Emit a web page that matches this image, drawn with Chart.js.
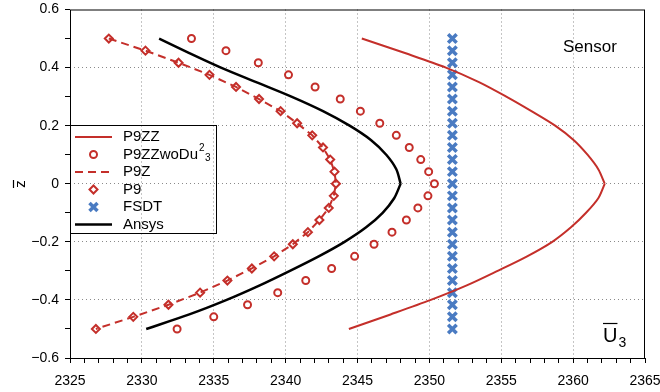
<!DOCTYPE html>
<html>
<head>
<meta charset="utf-8">
<script src="https://cdn.jsdelivr.net/npm/chart.js@4.4.0/dist/chart.umd.min.js"></script>
<style>
html, body { margin: 0; padding: 0; background: #fff; }
#wrap { width: 660px; height: 392px; }
</style>
</head>
<body>
<div id="wrap"><canvas id="c"></canvas></div>
<script>
// z levels of the sampled nodes, top to bottom
var zNodes = [0.5, 0.4583, 0.4167, 0.375, 0.3333, 0.2917, 0.25, 0.2083, 0.1667, 0.125, 0.0833, 0.0417, 0,
    -0.0417, -0.0833, -0.125, -0.1667, -0.2083, -0.25, -0.2917, -0.3333, -0.375, -0.4167, -0.4583, -0.5];

// U3 values at the nodes
var p9Values = [2327.7, 2330.25, 2332.55, 2334.7, 2336.55, 2338.15, 2339.65, 2340.8, 2341.85, 2342.6, 2343.1, 2343.4, 2343.5,
    2343.35, 2343.0, 2342.35, 2341.55, 2340.5, 2339.2, 2337.65, 2335.95, 2334.05, 2331.85, 2329.4, 2326.8];
var p9zValues = [2327.7, 2330.25, 2332.55, 2334.7, 2336.55, 2338.15, 2339.65, 2340.8, 2341.85, 2342.6, 2343.1, 2343.4, 2343.5,
    2343.35, 2343.0, 2342.35, 2341.55, 2340.5, 2339.2, 2337.65, 2335.95, 2334.05, 2331.85, 2329.4, 2326.8];
var p9zzWoValues = [2333.45, 2335.85, 2338.1, 2340.2, 2342.05, 2343.8, 2345.2, 2346.55, 2347.7, 2348.6, 2349.4, 2349.95, 2350.35,
    2349.9, 2349.2, 2348.4, 2347.4, 2346.15, 2344.8, 2343.2, 2341.4, 2339.45, 2337.35, 2335.0, 2332.45];
var fsdtValues = [2351.6, 2351.6, 2351.6, 2351.6, 2351.6, 2351.6, 2351.6, 2351.6, 2351.6, 2351.6, 2351.6, 2351.6, 2351.6,
    2351.6, 2351.6, 2351.6, 2351.6, 2351.6, 2351.6, 2351.6, 2351.6, 2351.6, 2351.6, 2351.6, 2351.6];

// continuous curves
var curveZ = [0.5, 0.45, 0.4, 0.35, 0.3, 0.25, 0.2, 0.15, 0.1, 0.05, 0,
    -0.05, -0.1, -0.15, -0.2, -0.25, -0.3, -0.35, -0.4, -0.45, -0.5];
var p9zzU = [2345.3, 2348.3, 2351.15, 2353.45, 2355.35, 2357.1, 2358.75, 2360.05, 2361.0, 2361.75, 2362.2,
    2361.75, 2360.9, 2359.85, 2358.55, 2356.8, 2354.75, 2352.6, 2350.1, 2347.3, 2344.4];
var ansysU = [2331.2, 2333.3, 2335.5, 2337.95, 2340.4, 2342.6, 2344.45, 2345.95, 2347.0, 2347.7, 2348.0,
    2347.55, 2346.75, 2345.6, 2344.1, 2342.3, 2340.3, 2338.2, 2335.9, 2333.3, 2330.3];

var xTicks = [2325, 2330, 2335, 2340, 2345, 2350, 2355, 2360, 2365];
var yTicks = [-0.6, -0.4, -0.2, 0, 0.2, 0.4, 0.6];

var RED = '#c42f2a';
var BLUE = '#4a7bc2';
var FONT = "'Liberation Sans', Arial, Helvetica, sans-serif";

function pts(us, zs) {
    return us.map(function(u, i) { return { x: u, y: zs[i] }; });
}

// smooth halves that meet in a sharp tip at z = 0
function tipPts(us, zs) {
    var out = [];
    us.forEach(function(u, i) {
        out.push({ x: u, y: zs[i] });
        if (zs[i] === 0) {
            out.push({ x: null, y: null });
            out.push({ x: u, y: zs[i] });
        }
    });
    return out;
}

var legendItems = [
    { label: 'P9ZZ', kind: 'line', color: RED },
    { label: 'P9ZZwoDu', sup: '2', sub: '3', kind: 'circle', color: RED },
    { label: 'P9Z', kind: 'dash', color: RED },
    { label: 'P9', kind: 'diamond', color: RED },
    { label: 'FSDT', kind: 'cross', color: BLUE },
    { label: 'Ansys', kind: 'line', color: '#000', width: 2.5 }
];

function drawMarker(ctx, kind, x, y, color) {
    ctx.save();
    ctx.strokeStyle = color;
    ctx.fillStyle = '#fff';
    ctx.setLineDash([]);
    if (kind === 'circle') {
        ctx.lineWidth = 2;
        ctx.beginPath();
        ctx.arc(x, y, 3.5, 0, Math.PI * 2);
        ctx.fill();
        ctx.stroke();
    } else if (kind === 'diamond') {
        ctx.lineWidth = 2;
        ctx.beginPath();
        ctx.moveTo(x, y - 4);
        ctx.lineTo(x + 4, y);
        ctx.lineTo(x, y + 4);
        ctx.lineTo(x - 4, y);
        ctx.closePath();
        ctx.fill();
        ctx.stroke();
    } else if (kind === 'cross') {
        ctx.lineWidth = 3.5;
        ctx.beginPath();
        ctx.moveTo(x - 4, y - 4);
        ctx.lineTo(x + 4, y + 4);
        ctx.moveTo(x + 4, y - 4);
        ctx.lineTo(x - 4, y + 4);
        ctx.stroke();
    }
    ctx.restore();
}

var extrasPlugin = {
    id: 'extras',
    afterDraw: function(chart) {
        var ctx = chart.ctx;
        var a = chart.chartArea;
        ctx.save();

        // axes frame
        ctx.strokeStyle = '#000';
        ctx.lineWidth = 1;
        ctx.setLineDash([]);
        ctx.strokeRect(a.left + 0.5, a.top + 0.5, a.right - a.left - 1, a.bottom - a.top);

        // legend box
        var lx = a.left + 0.5, ly = 125.5, lw = 146, lh = 108;
        ctx.strokeRect(lx, ly, lw, lh);
        ctx.textBaseline = 'middle';
        ctx.textAlign = 'left';
        legendItems.forEach(function(it, i) {
            var y = 137 + i * 17.5;
            if (it.kind === 'line' || it.kind === 'dash') {
                ctx.save();
                ctx.strokeStyle = it.color;
                ctx.lineWidth = it.width || 2;
                ctx.setLineDash(it.kind === 'dash' ? [8, 5] : []);
                ctx.beginPath();
                ctx.moveTo(75, y);
                ctx.lineTo(112, y);
                ctx.stroke();
                ctx.restore();
            } else {
                drawMarker(ctx, it.kind, 93.5, y, it.color);
            }
            ctx.fillStyle = '#000';
            ctx.font = '15px ' + FONT;
            ctx.fillText(it.label, 123, y);
            if (it.sup) {
                var w = ctx.measureText(it.label).width;
                ctx.font = '10px ' + FONT;
                ctx.fillText(it.sup, 123 + w + 1, y - 6);
                ctx.fillText(it.sub, 123 + w + 7, y + 4);
            }
        });

        // Sensor label
        ctx.fillStyle = '#000';
        ctx.font = '17px ' + FONT;
        ctx.textBaseline = 'alphabetic';
        ctx.fillText('Sensor', 563, 52);

        // U3 label with overbar
        ctx.font = '20px ' + FONT;
        ctx.fillText('U', 603, 342);
        var uw = ctx.measureText('U').width;
        ctx.lineWidth = 1.2;
        ctx.beginPath();
        ctx.moveTo(603, 323.5);
        ctx.lineTo(603 + uw, 323.5);
        ctx.stroke();
        ctx.font = '14px ' + FONT;
        ctx.fillText('3', 603 + uw + 1, 347);

        // y axis title z with overbar, rotated
        ctx.translate(21, 184);
        ctx.rotate(-Math.PI / 2);
        ctx.font = '15px ' + FONT;
        ctx.textAlign = 'center';
        ctx.textBaseline = 'middle';
        ctx.fillText('z', 0, 0);
        ctx.lineWidth = 1.2;
        ctx.beginPath();
        ctx.moveTo(-4, -7.5);
        ctx.lineTo(4, -7.5);
        ctx.stroke();
        ctx.restore();
    }
};

function isMajorX(v) {
    return xTicks.indexOf(Math.round(v)) >= 0;
}
function isMajorY(v) {
    var r = Math.round(v * 10);
    return yTicks.indexOf(r / 10) >= 0;
}

new Chart(document.getElementById('c'), {
    type: 'scatter',
    data: {
        datasets: [
            {
                label: 'P9ZZ',
                data: tipPts(p9zzU, curveZ),
                showLine: true,
                spanGaps: false,
                borderColor: RED,
                borderWidth: 2,
                pointRadius: 0,
                tension: 0.3
            },
            {
                label: 'P9ZZwoDu23',
                data: pts(p9zzWoValues, zNodes),
                showLine: false,
                pointStyle: 'circle',
                pointRadius: 3.5,
                borderColor: RED,
                backgroundColor: '#fff',
                pointBorderWidth: 2
            },
            {
                label: 'P9Z',
                data: pts(p9zValues, zNodes),
                showLine: true,
                borderColor: RED,
                borderWidth: 2,
                borderDash: [8, 5],
                pointRadius: 0,
                tension: 0
            },
            {
                label: 'P9',
                data: pts(p9Values, zNodes),
                showLine: false,
                pointStyle: 'rectRot',
                pointRadius: 4,
                borderColor: RED,
                backgroundColor: '#fff',
                pointBorderWidth: 2
            },
            {
                label: 'FSDT',
                data: pts(fsdtValues, zNodes),
                showLine: false,
                pointStyle: 'crossRot',
                pointRadius: 6,
                borderColor: BLUE,
                backgroundColor: BLUE,
                pointBorderWidth: 3.5
            },
            {
                label: 'Ansys',
                data: tipPts(ansysU, curveZ),
                showLine: true,
                spanGaps: false,
                borderColor: '#000',
                borderWidth: 2.5,
                pointRadius: 0,
                tension: 0.3
            }
        ]
    },
    options: {
        responsive: true,
        maintainAspectRatio: false,
        animation: false,
        layout: { padding: { top: 9, right: 15, left: 0, bottom: 0 } },
        plugins: {
            legend: { display: false },
            tooltip: { enabled: false }
        },
        scales: {
            x: {
                type: 'linear',
                min: 2325,
                max: 2365,
                afterFit: function(s) {
                    s.height = 34;
                    s.paddingLeft = 0;
                    s.paddingRight = 0;
                },
                border: { display: false, dash: [1, 3] },
                grid: {
                    color: function(c) {
                        var v = c.tick ? c.tick.value : 0;
                        return (isMajorX(v) && v > 2325 && v < 2365) ? '#8a8a8a' : 'rgba(0,0,0,0)';
                    },
                    tickColor: '#000',
                    tickLength: 5,
                    lineWidth: 1
                },
                ticks: {
                    stepSize: 1,
                    autoSkip: false,
                    maxRotation: 0,
                    padding: 10,
                    color: '#000',
                    font: { family: FONT, size: 14 },
                    callback: function(v) { return isMajorX(v) ? String(Math.round(v)) : ''; }
                }
            },
            y: {
                type: 'linear',
                min: -0.6,
                max: 0.6,
                afterFit: function(s) {
                    s.width = 70;
                    s.paddingTop = 0;
                    s.paddingBottom = 0;
                },
                border: { display: false, dash: [1, 3] },
                grid: {
                    color: function(c) {
                        var v = c.tick ? c.tick.value : 0;
                        var r = Math.round(v * 10);
                        return (isMajorY(v) && Math.abs(r) < 6) ? '#8a8a8a' : 'rgba(0,0,0,0)';
                    },
                    tickColor: '#000',
                    tickLength: 5,
                    lineWidth: 1
                },
                ticks: {
                    stepSize: 0.1,
                    autoSkip: false,
                    padding: 6,
                    color: '#000',
                    font: { family: FONT, size: 14 },
                    callback: function(v) {
                        if (!isMajorY(v)) return '';
                        var r = Math.round(v * 10);
                        if (r === 0) return '0';
                        return (r < 0 ? '\u2212' : '') + (Math.abs(r) / 10).toFixed(1);
                    }
                }
            }
        }
    },
    plugins: [extrasPlugin]
});
</script>
</body>
</html>
